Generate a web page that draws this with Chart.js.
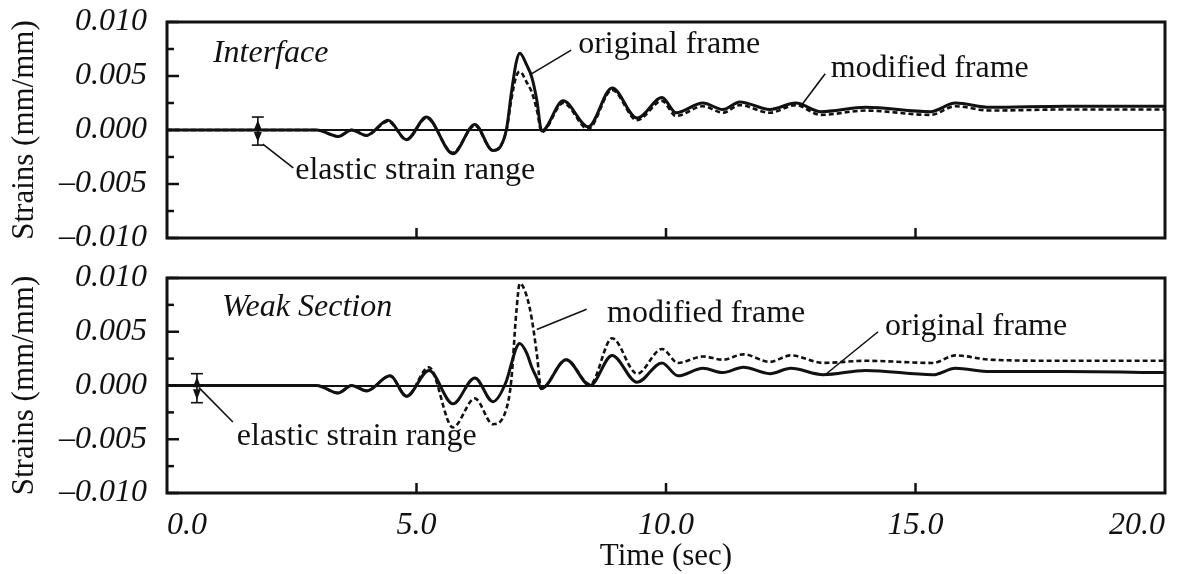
<!DOCTYPE html>
<html lang="en">
<head>
  <meta charset="UTF-8" />
  <title>Strains - Interface / Weak Section</title>
  <script src="https://cdn.jsdelivr.net/npm/chart.js"></script>
  <style>
    body { margin: 0; background: #fff; }
    #wrap { position: relative; width: 1188px; height: 574px; }
    #topChart { position: absolute; left: 0; top: 0; }
    #weakChart { position: absolute; left: 0; top: 250px; }
  </style>
</head>
<body>
<div id="wrap">
  <canvas id="topChart" width="1188" height="262"></canvas>
  <canvas id="weakChart" width="1188" height="324"></canvas>
</div>

<script>
// time (sec) samples and strains (mm/mm)
const topTime = [0, 3.0, 3.43, 3.7, 4.0, 4.43, 4.8, 5.2, 5.73, 6.17, 6.53, 6.8, 6.9, 7.0, 7.07, 7.21, 7.31, 7.41, 7.51,
  7.94, 8.44, 8.92, 9.42, 9.92, 10.2, 10.74, 11.14, 11.48, 12.08, 12.6, 13.1, 14.0, 15.3, 15.8, 16.5, 18.0, 20.0];
const topOriginal = [0, 0, -0.0006, 0.0, -0.0005, 0.0009, -0.0009, 0.0012, -0.0022, 0.0005, -0.0019, 0.0, 0.0034, 0.0063, 0.0071, 0.0060, 0.0049, 0.0028, -0.0001,
  0.0027, 0.0003, 0.0039, 0.0011, 0.0030, 0.0016, 0.0025, 0.0019, 0.0026, 0.0019, 0.0025, 0.0017, 0.0021, 0.0017, 0.0025, 0.0021, 0.0022, 0.0022];
const topModified = [0, 0, -0.0006, 0.0, -0.0005, 0.0008, -0.0009, 0.0011, -0.0021, 0.0004, -0.0019, -0.0001, 0.0028, 0.0050, 0.0054, 0.0044, 0.0035, 0.0019, -0.0002,
  0.0025, 0.0001, 0.0037, 0.0009, 0.0027, 0.0013, 0.0022, 0.0016, 0.0023, 0.0016, 0.0023, 0.0014, 0.0018, 0.0014, 0.0022, 0.0018, 0.0019, 0.0019];

const weakTime = [0, 3.0, 3.43, 3.7, 4.0, 4.47, 4.8, 5.25, 5.73, 6.17, 6.53, 6.8, 6.9, 7.0, 7.07, 7.21, 7.31, 7.41, 7.5,
  8.0, 8.48, 8.92, 9.42, 9.92, 10.24, 10.74, 11.14, 11.55, 12.08, 12.5, 13.15, 14.0, 15.35, 15.8, 16.5, 18.0, 20.0];
const weakOriginal = [0, 0, -0.0007, 0.0, -0.0005, 0.0009, -0.0010, 0.0014, -0.0017, 0.0007, -0.0015, 0.0004, 0.0020, 0.0035, 0.0039, 0.0030, 0.0017, 0.0007, -0.0003,
  0.0024, 0.0, 0.0028, 0.0003, 0.0021, 0.0009, 0.0016, 0.0012, 0.0017, 0.0011, 0.0016, 0.0010, 0.0014, 0.0010, 0.0016, 0.0013, 0.0013, 0.0012];
const weakModified = [0, 0, -0.0007, 0.0, -0.0005, 0.0009, -0.0010, 0.0017, -0.0039, -0.0012, -0.0036, -0.0022, 0.0005, 0.0068, 0.0095, 0.0083, 0.0062, 0.0030, -0.0003,
  0.0024, 0.0001, 0.0044, 0.0011, 0.0034, 0.0021, 0.0027, 0.0024, 0.0029, 0.0022, 0.0028, 0.0021, 0.0023, 0.0021, 0.0028, 0.0024, 0.0023, 0.0023];

// elastic strain range bars: [top panel, weak section]
const rangeTime = [1.82, 0.6];
const rangeHigh = [0.0012, 0.0011];
const rangeLow = [-0.0014, -0.0016];

const xTickValues = [0, 5, 10, 15, 20];
const xTickLabels = ['0.0', '5.0', '10.0', '15.0', '20.0'];
const yTickValues = [-0.01, -0.005, 0, 0.005, 0.01];
const yTickLabels = ['\u20130.010', '\u20130.005', '0.000', '0.005', '0.010'];
const yMinorTicks = [-0.0075, -0.0025, 0.0025, 0.0075];

Chart.defaults.font.family = "'Liberation Serif', 'Times New Roman', serif";
Chart.defaults.color = '#111';

const ink = '#111';

function line(ctx, x1, y1, x2, y2) {
  ctx.beginPath();
  ctx.moveTo(x1, y1);
  ctx.lineTo(x2, y2);
  ctx.stroke();
}

// frame, inward tick marks, range bars and labels
const figureMarks = {
  id: 'figureMarks',
  afterDatasetsDraw(chart, args, opts) {
    const { ctx, chartArea: a } = chart;
    const x = chart.scales.x, y = chart.scales.y;
    ctx.save();
    ctx.strokeStyle = ink;
    ctx.fillStyle = ink;

    ctx.lineWidth = 3;
    ctx.strokeRect(a.left, a.top, a.right - a.left, a.bottom - a.top);

    ctx.lineWidth = 2.5;
    yTickValues.forEach(v => {
      const py = y.getPixelForValue(v);
      line(ctx, a.left, py, a.left + 12, py);
    });
    yMinorTicks.forEach(v => {
      const py = y.getPixelForValue(v);
      line(ctx, a.left, py, a.left + 7, py);
    });
    xTickValues.slice(1, -1).forEach(v => {
      const px = x.getPixelForValue(v);
      line(ctx, px, a.bottom, px, a.bottom - 10);
    });

    // elastic strain range
    const i = opts.range;
    const px = x.getPixelForValue(rangeTime[i]);
    const ph = y.getPixelForValue(rangeHigh[i]);
    const pl = y.getPixelForValue(rangeLow[i]);
    const pm = (ph + pl) / 2;
    ctx.lineWidth = 1.6;
    line(ctx, px, ph, px, pl);
    line(ctx, px - 6, ph, px + 6, ph);
    line(ctx, px - 6, pl, px + 6, pl);
    [[ph + 3, pm - 1], [pl - 3, pm + 1]].forEach(([tip, base]) => {
      ctx.beginPath();
      ctx.moveTo(px, tip);
      ctx.lineTo(px - 4, base);
      ctx.lineTo(px + 4, base);
      ctx.closePath();
      ctx.fill();
    });

    // leader lines
    ctx.lineWidth = 1.6;
    opts.leaders.forEach(l => {
      line(ctx, x.getPixelForValue(l[0]), y.getPixelForValue(l[1]),
                x.getPixelForValue(l[2]), y.getPixelForValue(l[3]));
    });

    // labels
    ctx.textBaseline = 'alphabetic';
    ctx.textAlign = 'left';
    opts.notes.forEach(n => {
      ctx.font = (n.italic ? 'italic ' : '') + "32px 'Liberation Serif', 'Times New Roman', serif";
      ctx.fillText(n.text, x.getPixelForValue(n.t), y.getPixelForValue(n.v));
    });
    ctx.restore();
  }
};

function series(times, values) {
  return times.map((t, i) => ({ x: t, y: values[i] }));
}

function noEdgePadding(s) {
  s.paddingTop = 0;
  s.paddingBottom = 0;
  s.paddingLeft = 0;
  s.paddingRight = 0;
}

function makeChart(id, time, original, modified, cfg) {
  return new Chart(document.getElementById(id), {
    type: 'line',
    data: {
      datasets: [
        {
          label: 'modified frame',
          data: series(time, modified),
          borderColor: ink,
          borderWidth: 2.6,
          borderDash: [5, 3],
          pointRadius: 0,
          cubicInterpolationMode: 'monotone'
        },
        {
          label: 'original frame',
          data: series(time, original),
          borderColor: ink,
          borderWidth: 3,
          pointRadius: 0,
          cubicInterpolationMode: 'monotone'
        }
      ]
    },
    options: {
      responsive: false,
      animation: false,
      layout: { padding: { left: 0, right: 23, top: cfg.padTop, bottom: 0 } },
      scales: {
        x: {
          type: 'linear',
          min: 0,
          max: 20,
          afterBuildTicks: s => { s.ticks = xTickValues.map(v => ({ value: v })); },
          afterFit: s => { s.height = cfg.xHeight; noEdgePadding(s); },
          grid: { display: false },
          border: { display: false },
          ticks: {
            display: cfg.xLabels,
            autoSkip: false,
            maxRotation: 0,
            align: 'inner',
            padding: 5,
            font: { size: 32, style: 'italic' },
            callback: (v, i) => xTickLabels[i]
          },
          title: {
            display: cfg.xLabels,
            text: 'Time (sec)',
            font: { size: 31, lineHeight: 1.0 },
            padding: { top: 0, bottom: 2 }
          }
        },
        y: {
          min: -0.01,
          max: 0.01,
          afterBuildTicks: s => { s.ticks = yTickValues.map(v => ({ value: v })); },
          afterFit: s => { s.width = 167; noEdgePadding(s); },
          grid: {
            drawTicks: false,
            lineWidth: 2,
            color: c => (c.tick && Math.abs(c.tick.value) < 1e-9) ? ink : 'rgba(0,0,0,0)'
          },
          border: { display: false },
          ticks: {
            autoSkip: false,
            padding: 20,
            font: { size: 32, style: 'italic' },
            callback: (v, i) => yTickLabels[i]
          },
          title: {
            display: true,
            text: 'Strains (mm/mm)',
            font: { size: 31 },
            padding: { top: 6, bottom: 0 }
          }
        }
      },
      plugins: {
        legend: { display: false },
        tooltip: { enabled: false },
        figureMarks: cfg.marks
      }
    },
    plugins: [figureMarks]
  });
}

makeChart('topChart', topTime, topOriginal, topModified, {
  padTop: 22,
  xHeight: 24,
  xLabels: false,
  marks: {
    range: 0,
    leaders: [
      [8.10, 0.0074, 7.27, 0.0051],
      [13.19, 0.0052, 12.70, 0.0022],
      [1.92, -0.0013, 2.53, -0.0035]
    ],
    notes: [
      { text: 'Interface', t: 0.92, v: 0.0063, italic: true },
      { text: 'original frame', t: 8.24, v: 0.0071 },
      { text: 'modified frame', t: 13.30, v: 0.0049 },
      { text: 'elastic strain range', t: 2.57, v: -0.0045 }
    ]
  }
});

makeChart('weakChart', weakTime, weakOriginal, weakModified, {
  padTop: 28,
  xHeight: 81,
  xLabels: true,
  marks: {
    range: 1,
    leaders: [
      [8.41, 0.0071, 7.41, 0.0052],
      [14.25, 0.0050, 13.19, 0.0010],
      [0.64, -0.0002, 1.32, -0.0034]
    ],
    notes: [
      { text: 'Weak Section', t: 1.10, v: 0.0065, italic: true },
      { text: 'modified frame', t: 8.82, v: 0.0059 },
      { text: 'original frame', t: 14.39, v: 0.0047 },
      { text: 'elastic strain range', t: 1.40, v: -0.0055 }
    ]
  }
});
</script>
</body>
</html>
